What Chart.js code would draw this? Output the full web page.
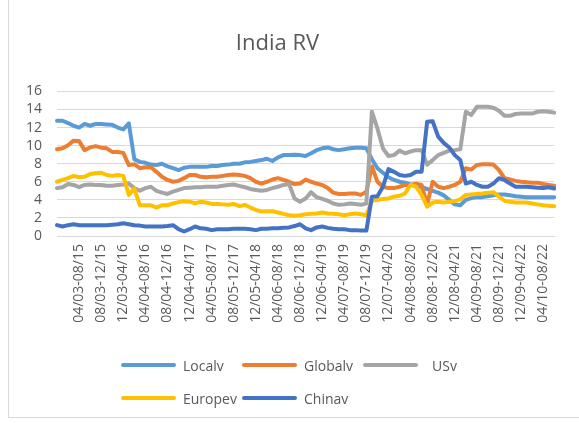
<!DOCTYPE html>
<html>
<head>
<meta charset="utf-8">
<script src="https://cdn.jsdelivr.net/npm/chart.js@4.4.1/dist/chart.umd.min.js"></script>
<style>
  body { margin: 0; background: #fff; }
  #wrap { position: relative; width: 579px; height: 423px; overflow: hidden; background: #fff; }
  #frame { position: absolute; left: 8px; top: -2px; width: 600px; height: 419px; border-left: 1px solid #d9d9d9; border-bottom: 1px solid #d9d9d9; }
  #chartIndiaRV { position: absolute; left: 0; top: 0; }
  .leg { position: absolute; height: 20px; display: flex; align-items: center; font: 14px "Open Sans", sans-serif; color: #595959; white-space: nowrap; }
  .leg .sw { width: 55px; height: 4px; border-radius: 2px; margin-right: 7px; }
</style>
</head>
<body>
<div id="wrap">
  <div id="frame"></div>
  <canvas id="chartIndiaRV" width="579" height="423"></canvas>
  <div id="legend"></div>
</div>
<script>
// categorias: ventanas moviles mensuales, 12/02-04/15 ... 06/10-10/22
var categorias = [];
for (var i = 0; i < 91; i++) {
    var a = 2002 * 12 + 11 + i;      // mes de inicio
    var b = 2015 * 12 + 3 + i;       // mes final
    var f = function (m) {
        var mm = (m % 12) + 1;
        var yy = Math.floor(m / 12) % 100;
        return (mm < 10 ? '0' : '') + mm + '/' + (yy < 10 ? '0' : '') + yy;
    };
    categorias.push(f(a) + '-' + f(b));
}

// etiquetas que se muestran en el eje x
var etiquetasX = ['04/03-08/15', '08/03-12/15', '12/03-04/16', '04/04-08/16', '08/04-12/16', '12/04-04/17',
    '04/05-08/17', '08/05-12/17', '12/05-04/18', '04/06-08/18', '08/06-12/18', '12/06-04/19', '04/07-08/19',
    '08/07-12/19', '12/07-04/20', '04/08-08/20', '08/08-12/20', '12/08-04/21', '04/09-08/21', '08/09-12/21',
    '12/09-04/22', '04/10-08/22'];

var localv = [12.75, 12.75, 12.5, 12.2, 12.0, 12.4, 12.2, 12.4, 12.4, 12.35,
    12.3, 12.0, 11.8, 12.45, 8.5, 8.2, 8.1, 7.9, 7.85, 8.0,
    7.7, 7.5, 7.3, 7.55, 7.65, 7.65, 7.65, 7.65, 7.75, 7.75,
    7.85, 7.9, 8.0, 8.0, 8.15, 8.2, 8.3, 8.4, 8.55, 8.3,
    8.7, 8.95, 8.95, 9.0, 8.95, 8.85, 9.15, 9.5, 9.7, 9.8,
    9.6, 9.5, 9.6, 9.7, 9.77, 9.77, 9.7, 8.5, 7.5, 7.0,
    6.5, 6.2, 6.0, 5.9, 5.7, 5.6, 5.4, 5.2, 5.0, 4.8,
    4.5, 4.0, 3.5, 3.4, 4.0, 4.2, 4.3, 4.3, 4.4, 4.5,
    4.6, 4.6, 4.5, 4.4, 4.35, 4.3, 4.3, 4.3, 4.3, 4.3,
    4.3];

var globalv = [9.6, 9.7, 10.05, 10.55, 10.5, 9.5, 9.8, 9.95, 9.77, 9.7,
    9.3, 9.3, 9.2, 7.85, 7.95, 7.5, 7.6, 7.6, 7.1, 6.55,
    6.2, 6.0, 6.1, 6.4, 6.75, 6.75, 6.55, 6.5, 6.55, 6.55,
    6.65, 6.75, 6.8, 6.75, 6.65, 6.4, 6.0, 5.8, 6.0, 6.25,
    6.4, 6.2, 6.0, 5.75, 5.8, 6.25, 6.0, 5.8, 5.65, 5.3,
    4.8, 4.65, 4.65, 4.7, 4.7, 4.55, 4.9, 7.7, 6.0, 5.45,
    5.3, 5.3, 5.45, 5.65, 5.65, 5.8, 5.65, 3.5, 6.0, 5.45,
    5.3, 5.45, 5.65, 6.0, 7.5, 7.35, 7.85, 7.95, 7.95, 7.9,
    7.3, 6.4, 6.25, 6.1, 6.0, 5.95, 5.9, 5.9, 5.75, 5.65,
    5.55];

var usv = [5.3, 5.4, 5.75, 5.65, 5.4, 5.65, 5.7, 5.65, 5.65, 5.55,
    5.55, 5.65, 5.7, 5.8, 5.3, 5.0, 5.3, 5.45, 5.0, 4.8,
    4.65, 4.9, 5.1, 5.3, 5.35, 5.4, 5.4, 5.45, 5.45, 5.45,
    5.55, 5.65, 5.7, 5.55, 5.4, 5.2, 5.1, 5.0, 5.1, 5.3,
    5.45, 5.65, 5.75, 4.15, 3.8, 4.15, 4.85, 4.3, 4.1, 3.9,
    3.6, 3.45, 3.5, 3.6, 3.55, 3.45, 3.6, 13.75, 11.9, 9.7,
    8.85, 8.95, 9.45, 9.15, 9.35, 9.5, 9.5, 7.9, 8.4, 8.95,
    9.2, 9.45, 9.5, 9.6, 13.75, 13.4, 14.3, 14.3, 14.3, 14.2,
    13.85, 13.3, 13.3, 13.5, 13.55, 13.55, 13.55, 13.75, 13.8, 13.75,
    13.65];

var europev = [6.0, 6.2, 6.4, 6.65, 6.5, 6.55, 6.85, 6.95, 7.0, 6.75,
    6.65, 6.75, 6.65, 4.55, 5.25, 3.4, 3.4, 3.4, 3.15, 3.4,
    3.4, 3.6, 3.75, 3.85, 3.8, 3.6, 3.8, 3.7, 3.55, 3.55,
    3.5, 3.45, 3.55, 3.3, 3.45, 3.15, 2.9, 2.7, 2.75, 2.75,
    2.6, 2.45, 2.3, 2.25, 2.3, 2.4, 2.45, 2.5, 2.6, 2.5,
    2.45, 2.4, 2.3, 2.4, 2.5, 2.4, 2.3, 3.9, 4.0, 4.1,
    4.15, 4.35, 4.45, 4.7, 5.65, 5.45, 4.55, 3.25, 3.7, 3.8,
    3.7, 3.8, 3.85, 4.05, 4.55, 4.6, 4.65, 4.7, 4.8, 4.85,
    4.35, 3.9, 3.8, 3.7, 3.7, 3.7, 3.6, 3.5, 3.4, 3.35,
    3.3];

var chinav = [1.2, 1.05, 1.2, 1.3, 1.2, 1.2, 1.2, 1.2, 1.2, 1.2,
    1.25, 1.3, 1.4, 1.3, 1.2, 1.15, 1.05, 1.05, 1.05, 1.05,
    1.1, 1.2, 0.75, 0.5, 0.75, 1.05, 0.85, 0.8, 0.65, 0.75,
    0.75, 0.75, 0.8, 0.8, 0.8, 0.75, 0.65, 0.8, 0.8, 0.85,
    0.85, 0.9, 0.95, 1.1, 1.3, 0.85, 0.65, 0.95, 1.05, 0.9,
    0.8, 0.75, 0.75, 0.65, 0.65, 0.6, 0.6, 4.35, 4.4, 5.45,
    7.4, 7.1, 6.75, 6.65, 6.75, 7.1, 7.1, 12.65, 12.7, 11.0,
    10.3, 9.8, 8.95, 8.4, 5.8, 6.0, 5.65, 5.45, 5.45, 5.8,
    6.4, 6.2, 5.8, 5.45, 5.45, 5.45, 5.4, 5.35, 5.3, 5.4,
    5.25];

var fuente = '"Open Sans", sans-serif';
var gris = '#595959';

function serie(nombre, datos, color, orden) {
    return {
        label: nombre,
        data: datos,
        borderColor: color,
        backgroundColor: color,
        borderWidth: 4,
        pointRadius: 0,
        tension: 0,
        borderCapStyle: 'round',
        borderJoinStyle: 'round',
        order: orden
    };
}

var series = [
    serie('Localv', localv, '#5B9BD5', 5),
    serie('Globalv', globalv, '#ED7D31', 4),
    serie('USv', usv, '#A5A5A5', 3),
    serie('Europev', europev, '#FFC000', 2),
    serie('Chinav', chinav, '#4472C4', 1)
];

var grapharea = document.getElementById('chartIndiaRV');
var myLineChart = new Chart(grapharea, {
    type: 'line',
    data: { labels: categorias, datasets: series },
    options: {
        responsive: false,
        animation: false,
        devicePixelRatio: 1,
        layout: { padding: { left: 0, right: 24, top: 0, bottom: 0 } },
        plugins: {
            legend: { display: false },
            tooltip: { enabled: false },
            title: {
                display: true,
                text: 'India RV',
                color: gris,
                font: { family: fuente, size: 22, weight: 'normal' },
                padding: { top: 31, bottom: 34 }
            }
        },
        scales: {
            x: {
                offset: false,
                grid: { display: false, drawTicks: false },
                border: { display: true, color: '#d9d9d9', width: 1 },
                ticks: {
                    autoSkip: false,
                    minRotation: 90,
                    maxRotation: 90,
                    padding: 8,
                    color: gris,
                    font: { family: fuente, size: 14 },
                    callback: function (v, idx) {
                        var t = categorias[idx];
                        return etiquetasX.indexOf(t) >= 0 ? t : '';
                    }
                },
                afterFit: function (s) { s.height = 187; }
            },
            y: {
                min: 0,
                max: 16,
                grid: { color: '#d9d9d9', drawTicks: false },
                border: { display: false },
                ticks: {
                    stepSize: 2,
                    autoSkip: false,
                    padding: 15,
                    color: gris,
                    font: { family: fuente, size: 14 }
                },
                afterFit: function (s) { s.width = 57; }
            }
        }
    }
});

// Leyenda en dos filas, columnas fijas como en Excel
var leyenda = document.getElementById('legend');
var colX = [121, 242, 363];
var filaY = [355, 388];
series.forEach(function (ds, k) {
    var el = document.createElement('div');
    el.className = 'leg';
    el.style.left = colX[k % 3] + 'px';
    el.style.top = filaY[Math.floor(k / 3)] + 'px';
    var sw = document.createElement('span');
    sw.className = 'sw';
    sw.style.background = ds.borderColor;
    if (ds.label === 'USv') sw.style.marginRight = '14px';
    el.appendChild(sw);
    el.appendChild(document.createTextNode(ds.label));
    leyenda.appendChild(el);
});
</script>
</body>
</html>
